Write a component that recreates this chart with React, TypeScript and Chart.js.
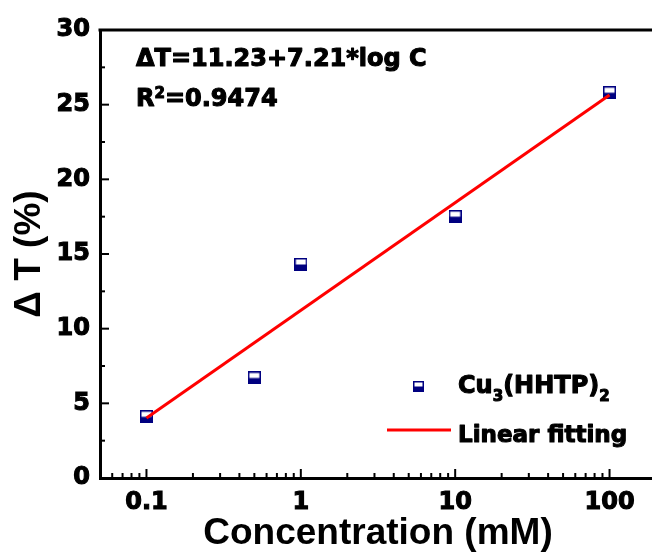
import { useEffect, useRef } from "react";
import { Chart, registerables } from "chart.js";

Chart.register(...registerables);

// Measured response of the Cu3(HHTP)2 sensor
const concentrations = [0.1, 0.5, 1, 10, 100];
const deltaT = [4.1, 6.7, 14.3, 17.5, 25.8];

// Linear fit ΔT = 11.23 + 7.21*log C, evaluated at the ends of the range
const fitConcentrations = [0.1, 100];
const fitDeltaT = [4.02, 25.65];

// Axis ticks
const xTickValues = [
  0.06, 0.07, 0.08, 0.09,
  0.1, 0.2, 0.3, 0.4, 0.5, 0.6, 0.7, 0.8, 0.9,
  1, 2, 3, 4, 5, 6, 7, 8, 9,
  10, 20, 30, 40, 50, 60, 70, 80, 90,
  100, 200,
];
const xTickLabels = [0.1, 1, 10, 100];
const yTickValues = [0, 2.5, 5, 7.5, 10, 12.5, 15, 17.5, 20, 22.5, 25, 27.5, 30];
const yTickLabels = [0, 5, 10, 15, 20, 25, 30];

const equationText = "ΔT=11.23+7.21*log C";
const r2Text = "=0.9474";
const xTitle = "Concentration (mM)";
const yTitle = "Δ T (%)";

const NAVY = "#000080";
const RED = "#ff0000";
const WIDE_FONT = "'DejaVu Sans', sans-serif";
const TITLE_FONT = "'Liberation Sans', Arial, sans-serif";
const TEXT_STROKE = 1.1;

type Run = { text: string; size: number; dy?: number };

function drawRuns(ctx: CanvasRenderingContext2D, x: number, y: number, runs: Run[]) {
  let cx = x;
  for (const r of runs) {
    ctx.font = `bold ${r.size}px ${WIDE_FONT}`;
    const ty = y + (r.dy || 0);
    ctx.strokeText(r.text, cx, ty);
    ctx.fillText(r.text, cx, ty);
    cx += ctx.measureText(r.text).width;
  }
}

// Half-filled square marker: white top half, navy bottom half, navy frame
function makeMarker(size: number): HTMLCanvasElement {
  const c = document.createElement("canvas");
  c.width = size;
  c.height = size;
  const g = c.getContext("2d")!;
  g.fillStyle = NAVY;
  g.fillRect(0, 0, size, size);
  g.fillStyle = "#ffffff";
  const b = 1.5;
  g.fillRect(b, b, size - 2 * b, size / 2 - b);
  return c;
}

export default function App() {
  const ref = useRef<HTMLCanvasElement | null>(null);

  useEffect(() => {
    if (!ref.current) return;
    const marker = makeMarker(13);
    const legendMarker = makeMarker(11);

    const decor = {
      id: "decor",
      beforeDatasetsDraw(chart: any) {
        const { ctx, chartArea } = chart;
        const { left, right, top, bottom } = chartArea;
        const xs = chart.scales.x;
        const ys = chart.scales.y;
        ctx.save();
        ctx.strokeStyle = "#000";
        ctx.lineWidth = 2;
        for (const v of xTickValues) {
          const px = xs.getPixelForValue(v);
          if (px < left - 0.5 || px > right + 0.5) continue;
          const len = xTickLabels.includes(v) ? 9 : 5;
          ctx.beginPath();
          ctx.moveTo(px, bottom);
          ctx.lineTo(px, bottom - len);
          ctx.stroke();
        }
        for (const v of yTickValues) {
          const py = ys.getPixelForValue(v);
          const len = yTickLabels.includes(v) ? 9 : 5;
          ctx.beginPath();
          ctx.moveTo(left, py);
          ctx.lineTo(left + len, py);
          ctx.stroke();
        }
        // top and right frame
        ctx.lineWidth = 3;
        ctx.beginPath();
        ctx.moveTo(left - 1.5, top);
        ctx.lineTo(right, top);
        ctx.lineTo(right, bottom);
        ctx.stroke();
        ctx.restore();
      },
      afterDraw(chart: any) {
        const { ctx, chartArea } = chart;
        const { left, top } = chartArea;
        ctx.save();
        ctx.fillStyle = "#000";
        ctx.strokeStyle = "#000";
        ctx.lineWidth = TEXT_STROKE;
        ctx.lineJoin = "round";
        ctx.textBaseline = "alphabetic";
        ctx.textAlign = "left";
        // fit equation and R²
        drawRuns(ctx, left + 36, top + 36, [{ text: equationText, size: 24 }]);
        drawRuns(ctx, left + 36, top + 76, [
          { text: "R", size: 24 },
          { text: "2", size: 15, dy: -8 },
          { text: r2Text, size: 24 },
        ]);
        // legend
        ctx.drawImage(legendMarker, left + 313, top + 351, 11, 11);
        drawRuns(ctx, left + 358, top + 363, [
          { text: "Cu", size: 24 },
          { text: "3", size: 15, dy: 8 },
          { text: "(HHTP)", size: 24 },
          { text: "2", size: 15, dy: 8 },
        ]);
        drawRuns(ctx, left + 358, top + 412, [{ text: "Linear fitting", size: 23 }]);
        ctx.strokeStyle = RED;
        ctx.lineWidth = 3;
        ctx.beginPath();
        ctx.moveTo(left + 287, top + 400);
        ctx.lineTo(left + 351, top + 400);
        ctx.stroke();
        ctx.restore();
      },
    };

    const tickFont = { family: WIDE_FONT, weight: "bold" as const, size: 24 };

    const chart = new Chart(ref.current, {
      type: "scatter",
      data: {
        datasets: [
          {
            label: "Linear fitting",
            data: fitConcentrations.map((x, i) => ({ x, y: fitDeltaT[i] })),
            showLine: true,
            borderColor: RED,
            borderWidth: 3,
            pointRadius: 0,
            pointHoverRadius: 0,
          },
          {
            label: "Cu3(HHTP)2",
            data: concentrations.map((x, i) => ({ x, y: deltaT[i] })),
            pointStyle: marker as any,
            pointRadius: 6.5,
            backgroundColor: NAVY,
            borderColor: NAVY,
          },
        ],
      },
      options: {
        animation: false,
        responsive: false,
        layout: { padding: { left: 0, top: 30, right: 14, bottom: 0 } },
        plugins: { legend: { display: false }, tooltip: { enabled: false } },
        scales: {
          x: {
            type: "logarithmic",
            min: 0.05,
            max: 200,
            afterBuildTicks: (scale: any) => {
              scale.ticks = xTickValues.map((value) => ({ value }));
            },
            afterFit: (scale: any) => {
              scale.height = 80;
            },
            grid: { display: false, drawTicks: false },
            border: { display: true, color: "#000", width: 3 },
            ticks: {
              autoSkip: false,
              maxRotation: 0,
              minRotation: 0,
              padding: 10,
              color: "#000",
              textStrokeColor: "#000",
              textStrokeWidth: TEXT_STROKE,
              font: tickFont,
              callback: (v: any) => (xTickLabels.includes(Number(v)) ? String(v) : ""),
            },
            title: {
              display: true,
              text: xTitle,
              color: "#000",
              font: { family: TITLE_FONT, weight: "bold", size: 37, lineHeight: 1.2 },
              padding: { top: 0, bottom: 2 },
            },
          },
          y: {
            type: "linear",
            min: 0,
            max: 30,
            afterBuildTicks: (scale: any) => {
              scale.ticks = yTickValues.map((value) => ({ value }));
            },
            afterFit: (scale: any) => {
              scale.width = 100;
            },
            grid: { display: false, drawTicks: false },
            border: { display: true, color: "#000", width: 3 },
            ticks: {
              autoSkip: false,
              padding: 10,
              color: "#000",
              textStrokeColor: "#000",
              textStrokeWidth: TEXT_STROKE,
              font: tickFont,
              callback: (v: any) => (yTickLabels.includes(Number(v)) ? String(v) : ""),
            },
            title: {
              display: true,
              text: yTitle,
              color: "#000",
              font: { family: TITLE_FONT, weight: "bold", size: 37, lineHeight: 1.2 },
              padding: { top: 8, bottom: 0 },
            },
          },
        },
      },
      plugins: [decor],
    });
    return () => chart.destroy();
  }, []);

  return (
    <div
      style={{
        position: "fixed",
        left: 0,
        top: 0,
        width: 652,
        height: 558,
        overflow: "hidden",
        background: "#fff",
      }}
    >
      <canvas ref={ref} width={670} height={558} style={{ display: "block" }} />
    </div>
  );
}
